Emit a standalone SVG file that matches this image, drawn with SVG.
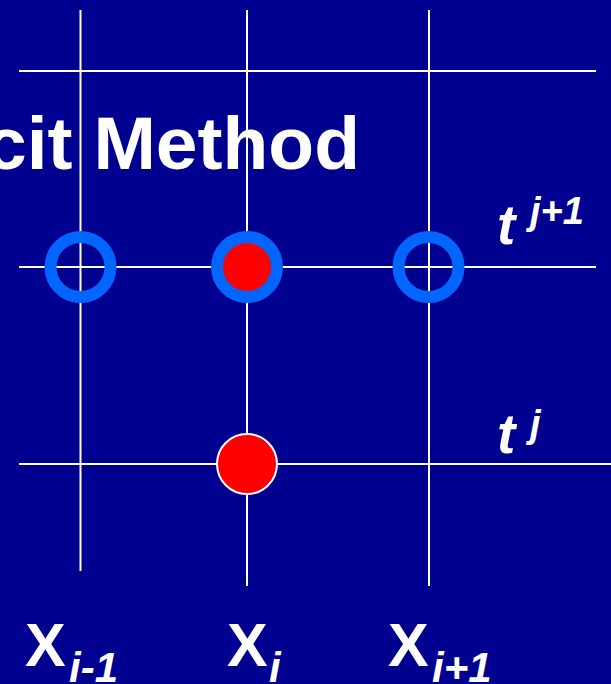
<svg xmlns="http://www.w3.org/2000/svg" width="611" height="684" viewBox="0 0 611 684">
  <style>
    .grid { stroke: #ffffff; stroke-width: 2; fill: none; }
    .ring { fill: none; stroke: #0066ff; stroke-width: 12; }
    .lbl { fill: #ffffff; font-family: "Liberation Sans", Arial, sans-serif; font-weight: bold; }
    .it { font-style: italic; }
  </style>
  <rect x="0" y="0" width="611" height="684" fill="#000090"/>
  <text id="title" class="lbl" x="360" y="169" font-size="75" text-anchor="end">cit Method</text>
  <g id="connectors">
    <line class="grid" x1="80.5" y1="10" x2="80.5" y2="571"/>
    <line class="grid" x1="247" y1="10" x2="247" y2="586"/>
    <line class="grid" x1="429" y1="10" x2="429" y2="586"/>
    <line class="grid" x1="19" y1="71" x2="596" y2="71"/>
    <line class="grid" x1="19" y1="267" x2="596" y2="267"/>
    <line class="grid" x1="19" y1="464" x2="611" y2="464"/>
  </g>
  <g id="node-im1-j1"><circle class="ring" cx="80.5" cy="267" r="30"/></g>
  <g id="node-i-j1"><circle cx="247" cy="267" r="30" fill="#ff0000" stroke="#0066ff" stroke-width="12"/></g>
  <g id="node-ip1-j1"><circle class="ring" cx="428.5" cy="267" r="30"/></g>
  <g id="node-i-j"><circle cx="247" cy="464" r="30" fill="#ff0000" stroke="#ffffff" stroke-width="2"/></g>
  <g id="label-tj1">
    <text class="lbl it" x="497" y="244" font-size="55">t</text>
    <text class="lbl it" x="530" y="224" font-size="38">j+1</text>
  </g>
  <g id="label-tj">
    <text class="lbl it" x="497" y="453" font-size="55">t</text>
    <text class="lbl it" x="530" y="437" font-size="38">j</text>
  </g>
  <g id="label-xim1">
    <text class="lbl" x="25" y="666" font-size="61">X</text>
    <text class="lbl it" x="69" y="682" font-size="42">i-1</text>
  </g>
  <g id="label-xi">
    <text class="lbl" x="227" y="666" font-size="61">X</text>
    <text class="lbl it" x="269" y="682" font-size="42">i</text>
  </g>
  <g id="label-xip1">
    <text class="lbl" x="388" y="666" font-size="61">X</text>
    <text class="lbl it" x="432" y="682" font-size="42">i+1</text>
  </g>
</svg>
